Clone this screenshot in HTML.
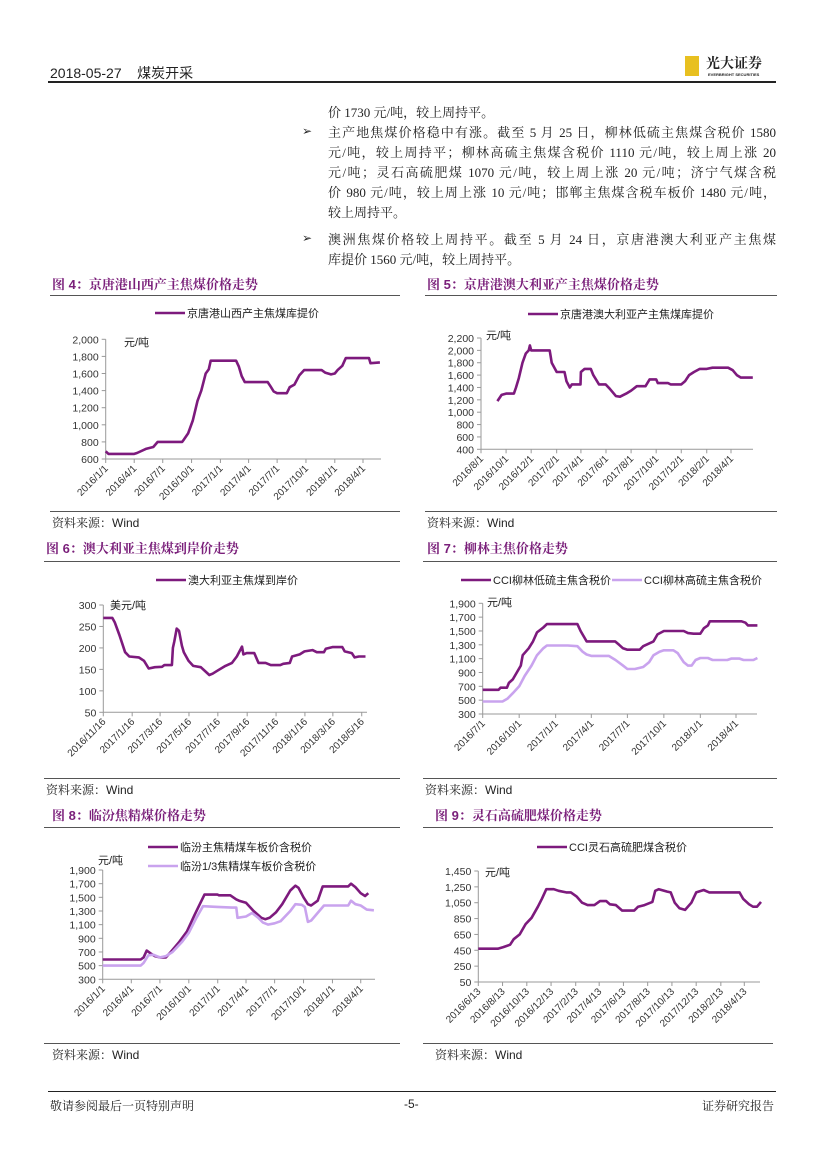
<!DOCTYPE html>
<html><head><meta charset="utf-8">
<style>
body{margin:0;background:#fff;}
#page{position:relative;width:827px;height:1169px;overflow:hidden;background:#fff;font-family:"Liberation Serif","Noto Serif CJK SC",serif;color:#222;}
.abs{position:absolute;white-space:nowrap;}
.para{position:absolute;left:328px;width:448px;font-size:13px;line-height:18px;white-space:nowrap;}
.just{text-align:justify;text-align-last:justify;}
.bullet{position:absolute;left:302px;font-size:12px;}
.ftitle{position:absolute;font-family:"Liberation Sans","Noto Serif CJK SC",serif;font-weight:bold;color:#7a1f7a;font-size:13px;}
.hr{position:absolute;height:1px;background:#555;}
.src{position:absolute;font-size:12px;font-family:"Liberation Sans","Noto Serif CJK SC",sans-serif;color:#222;}
svg text{font-family:"Liberation Sans","Noto Sans CJK SC",sans-serif;}
</style></head>
<body>
<div id="page">
<div class="abs" style="left:50px;top:63px;font-family:'Liberation Sans','Noto Sans CJK SC',sans-serif;font-size:14px;">2018-05-27&nbsp;&nbsp;&nbsp;&nbsp;煤炭开采</div>
<div class="abs" style="left:685px;top:56px;width:14px;height:20px;background:#e8c020;"></div>
<div class="abs" style="left:706px;top:53px;font-size:14px;font-weight:bold;font-family:'Noto Serif CJK SC',serif;">光大证券</div>
<div class="abs" style="left:708px;top:72px;font-size:4px;font-family:'Liberation Sans',sans-serif;font-weight:bold;">EVERBRIGHT SECURITIES</div>
<div class="abs" style="left:48px;top:81px;width:728px;height:2px;background:#222;"></div>

<div class="para" style="top:104px;">价 1730 元/吨，较上周持平。</div>
<div class="bullet" style="top:124px;">➢</div>
<div class="para just" style="top:124px;">主产地焦煤价格稳中有涨。截至 5 月 25 日，柳林低硫主焦煤含税价 1580</div>
<div class="para just" style="top:144px;">元/吨，较上周持平；柳林高硫主焦煤含税价 1110 元/吨，较上周上涨 20</div>
<div class="para just" style="top:164px;">元/吨；灵石高硫肥煤 1070 元/吨，较上周上涨 20 元/吨；济宁气煤含税</div>
<div class="para just" style="top:184px;">价 980 元/吨，较上周上涨 10 元/吨；邯郸主焦煤含税车板价 1480 元/吨，</div>
<div class="para" style="top:204px;">较上周持平。</div>
<div class="bullet" style="top:231px;">➢</div>
<div class="para just" style="top:231px;">澳洲焦煤价格较上周持平。截至 5 月 24 日，京唐港澳大利亚产主焦煤</div>
<div class="para" style="top:251px;">库提价 1560 元/吨，较上周持平。</div>

<div class="ftitle" style="left:52px;top:274px;">图 4：京唐港山西产主焦煤价格走势</div>
<div class="hr" style="left:50px;top:295px;width:350px;"></div>
<div class="ftitle" style="left:427px;top:274px;">图 5：京唐港澳大利亚产主焦煤价格走势</div>
<div class="hr" style="left:425px;top:295px;width:352px;"></div>
<div class="hr" style="left:50px;top:511px;width:350px;"></div>
<div class="src" style="left:52px;top:514px;">资料来源：Wind</div>
<div class="hr" style="left:425px;top:511px;width:352px;"></div>
<div class="src" style="left:427px;top:514px;">资料来源：Wind</div>

<div class="ftitle" style="left:46px;top:538px;">图 6：澳大利亚主焦煤到岸价走势</div>
<div class="hr" style="left:44px;top:561px;width:356px;"></div>
<div class="ftitle" style="left:427px;top:538px;">图 7：柳林主焦价格走势</div>
<div class="hr" style="left:423px;top:561px;width:354px;"></div>
<div class="hr" style="left:44px;top:778px;width:356px;"></div>
<div class="src" style="left:46px;top:781px;">资料来源：Wind</div>
<div class="hr" style="left:423px;top:778px;width:354px;"></div>
<div class="src" style="left:425px;top:781px;">资料来源：Wind</div>

<div class="ftitle" style="left:52px;top:805px;">图 8：临汾焦精煤价格走势</div>
<div class="hr" style="left:44px;top:827px;width:356px;"></div>
<div class="ftitle" style="left:435px;top:805px;">图 9：灵石高硫肥煤价格走势</div>
<div class="hr" style="left:423px;top:827px;width:350px;"></div>
<div class="hr" style="left:44px;top:1043px;width:356px;"></div>
<div class="src" style="left:52px;top:1046px;">资料来源：Wind</div>
<div class="hr" style="left:423px;top:1043px;width:350px;"></div>
<div class="src" style="left:435px;top:1046px;">资料来源：Wind</div>

<div class="abs" style="left:48px;top:1091px;width:728px;height:1px;background:#222;"></div>
<div class="src" style="left:50px;top:1097px;">敬请参阅最后一页特别声明</div>
<div class="src" style="left:404px;top:1097px;">-5-</div>
<div class="src" style="left:702px;top:1097px;">证券研究报告</div>

<svg id="charts" width="827" height="1169" style="position:absolute;left:0;top:0;"></svg>
</div>
<script>
const DARK="#7d1a7d", LIGHT="#c9a3ee";
// ---- Fig 4 ----
const c4YTicks=[600,800,1000,1200,1400,1600,1800,2000];
const c4XTicks=["2016-01-01","2016-04-01","2016-07-01","2016-10-01","2017-01-01","2017-04-01","2017-07-01","2017-10-01","2018-01-01","2018-04-01"];
const c4Dates=["2016-01-01","2016-01-10","2016-04-01","2016-04-10","2016-05-10","2016-06-01","2016-06-15","2016-09-01","2016-09-05","2016-09-20","2016-10-05","2016-10-20","2016-11-01","2016-11-15","2016-11-25","2016-12-01","2017-02-20","2017-03-01","2017-03-10","2017-03-20","2017-06-01","2017-06-10","2017-06-20","2017-07-01","2017-08-01","2017-08-10","2017-08-25","2017-09-10","2017-09-25","2017-11-20","2017-12-01","2017-12-20","2018-01-01","2018-01-10","2018-01-25","2018-02-05","2018-04-20","2018-04-25","2018-05-25"];
const c4Values=[690,660,660,670,720,740,800,800,820,900,1050,1280,1400,1600,1650,1750,1750,1680,1570,1500,1500,1450,1390,1370,1370,1440,1470,1580,1640,1640,1610,1590,1600,1640,1690,1780,1780,1720,1730];
// ---- Fig 5 ----
const c5YTicks=[400,600,800,1000,1200,1400,1600,1800,2000,2200];
const c5XTicks=["2016-08-01","2016-10-01","2016-12-01","2017-02-01","2017-04-01","2017-06-01","2017-08-01","2017-10-01","2017-12-01","2018-02-01","2018-04-01"];
const c5Dates=["2016-09-10","2016-09-20","2016-10-01","2016-10-20","2016-10-25","2016-11-01","2016-11-10","2016-11-18","2016-11-25","2016-11-28","2016-12-01","2017-01-15","2017-01-20","2017-02-01","2017-02-20","2017-02-25","2017-03-05","2017-03-10","2017-03-31","2017-04-01","2017-04-10","2017-04-25","2017-05-01","2017-05-15","2017-05-31","2017-06-10","2017-06-25","2017-07-05","2017-07-20","2017-08-01","2017-08-15","2017-09-05","2017-09-15","2017-10-01","2017-10-05","2017-10-30","2017-11-05","2017-12-01","2017-12-10","2017-12-20","2018-01-01","2018-01-15","2018-02-01","2018-02-15","2018-03-25","2018-04-05","2018-04-15","2018-04-25","2018-05-24"];
const c5Values=[1180,1280,1300,1300,1400,1550,1800,1950,2000,2080,2000,2000,1800,1650,1650,1500,1400,1450,1450,1650,1700,1700,1600,1450,1450,1380,1260,1250,1300,1350,1420,1420,1530,1530,1470,1470,1450,1450,1500,1600,1650,1700,1700,1720,1720,1680,1600,1560,1560];
// ---- Fig 6 ----
const c6YTicks=[50,100,150,200,250,300];
const c6XTicks=["2016-11-16","2017-01-16","2017-03-16","2017-05-16","2017-07-16","2017-09-16","2017-11-16","2018-01-16","2018-03-16","2018-05-16"];
const c6Dates=["2016-11-16","2016-12-05","2016-12-10","2016-12-20","2017-01-01","2017-01-10","2017-01-30","2017-02-10","2017-02-20","2017-03-05","2017-03-20","2017-03-25","2017-04-10","2017-04-12","2017-04-15","2017-04-20","2017-04-25","2017-05-01","2017-05-05","2017-05-15","2017-05-25","2017-06-10","2017-06-20","2017-06-28","2017-07-05","2017-07-15","2017-08-01","2017-08-15","2017-08-25","2017-09-05","2017-09-08","2017-09-15","2017-10-01","2017-10-10","2017-10-25","2017-11-05","2017-11-25","2017-12-01","2017-12-15","2017-12-20","2018-01-05","2018-01-15","2018-02-01","2018-02-10","2018-02-25","2018-03-01","2018-03-15","2018-04-05","2018-04-10","2018-04-25","2018-05-01","2018-05-10","2018-05-24"];
const c6Values=[270,270,260,230,190,180,178,170,152,155,156,160,160,200,215,245,240,205,190,170,158,155,145,137,140,147,158,165,180,203,185,188,188,165,165,160,160,163,165,180,185,192,195,190,190,198,202,202,192,188,178,180,180];
// ---- Fig 7 ----
const c7YTicks=[300,500,700,900,1100,1300,1500,1700,1900];
const c7XTicks=["2016-07-01","2016-10-01","2017-01-01","2017-04-01","2017-07-01","2017-10-01","2018-01-01","2018-04-01"];
const c7DarkDates=["2016-07-01","2016-08-10","2016-08-15","2016-08-31","2016-09-05","2016-09-15","2016-09-25","2016-10-05","2016-10-10","2016-10-25","2016-11-05","2016-11-15","2016-12-01","2016-12-10","2017-02-25","2017-03-05","2017-03-15","2017-03-20","2017-05-31","2017-06-10","2017-06-20","2017-07-01","2017-08-01","2017-08-10","2017-08-25","2017-09-05","2017-09-15","2017-10-01","2017-11-20","2017-12-01","2017-12-15","2018-01-01","2018-01-10","2018-01-20","2018-01-25","2018-04-15","2018-04-25","2018-05-01","2018-05-25"];
const c7DarkValues=[650,650,680,680,750,800,900,1000,1150,1250,1350,1480,1550,1600,1600,1500,1400,1350,1350,1300,1250,1230,1230,1280,1320,1350,1450,1500,1500,1470,1460,1460,1540,1580,1640,1640,1620,1580,1580];
const c7LightDates=["2016-07-01","2016-08-20","2016-09-01","2016-09-15","2016-10-01","2016-10-15","2016-11-01","2016-11-15","2016-12-01","2016-12-10","2017-02-01","2017-02-25","2017-03-10","2017-03-20","2017-04-01","2017-05-15","2017-06-01","2017-06-20","2017-07-01","2017-07-20","2017-08-10","2017-08-25","2017-09-05","2017-09-20","2017-10-01","2017-10-25","2017-11-05","2017-11-20","2017-12-01","2017-12-10","2017-12-20","2018-01-01","2018-01-20","2018-02-01","2018-03-10","2018-03-20","2018-04-10","2018-04-20","2018-05-15","2018-05-25"];
const c7LightValues=[480,480,520,600,700,850,1000,1150,1250,1290,1290,1280,1200,1160,1140,1140,1080,1000,950,950,980,1050,1150,1200,1220,1220,1180,1050,1000,1000,1080,1110,1110,1080,1080,1100,1100,1080,1080,1110];
// ---- Fig 8 ----
const c8YTicks=[300,500,700,900,1100,1300,1500,1700,1900];
const c8XTicks=["2016-01-01","2016-04-01","2016-07-01","2016-10-01","2017-01-01","2017-04-01","2017-07-01","2017-10-01","2018-01-01","2018-04-01"];
const c8DarkDates=["2016-01-01","2016-05-01","2016-05-10","2016-05-20","2016-06-01","2016-06-15","2016-07-01","2016-07-20","2016-08-01","2016-09-01","2016-09-25","2016-10-20","2016-11-05","2016-11-20","2016-12-31","2017-01-05","2017-02-10","2017-03-01","2017-03-10","2017-04-01","2017-04-25","2017-05-20","2017-06-01","2017-06-15","2017-07-05","2017-07-25","2017-08-20","2017-09-05","2017-09-15","2017-10-01","2017-10-15","2017-10-25","2017-11-15","2017-12-01","2018-01-01","2018-02-20","2018-03-01","2018-03-15","2018-04-01","2018-04-15","2018-04-25"];
const c8DarkValues=[590,590,620,720,680,640,620,620,680,850,1000,1250,1400,1540,1540,1530,1530,1470,1450,1420,1300,1200,1180,1200,1280,1400,1600,1670,1640,1500,1400,1380,1450,1660,1660,1660,1700,1650,1560,1520,1560];
const c8LightDates=["2016-01-01","2016-05-01","2016-05-10","2016-05-25","2016-06-10","2016-07-01","2016-07-20","2016-08-10","2016-09-10","2016-10-01","2016-10-25","2016-11-15","2016-12-31","2017-02-15","2017-03-01","2017-03-05","2017-04-01","2017-04-20","2017-05-10","2017-05-25","2017-06-10","2017-07-01","2017-07-20","2017-08-20","2017-09-05","2017-09-25","2017-10-05","2017-10-15","2017-10-25","2017-11-20","2017-12-05","2018-02-20","2018-03-01","2018-03-15","2018-04-01","2018-04-20","2018-05-13"];
const c8LightValues=[500,500,540,650,660,620,640,700,850,980,1200,1370,1360,1350,1350,1200,1220,1270,1200,1130,1100,1120,1150,1300,1400,1390,1360,1140,1160,1300,1380,1380,1450,1400,1380,1320,1310];
// ---- Fig 9 ----
const c9YTicks=[50,250,450,650,850,1050,1250,1450];
const c9XTicks=["2016-06-13","2016-08-13","2016-10-13","2016-12-13","2017-02-13","2017-04-13","2017-06-13","2017-08-13","2017-10-13","2017-12-13","2018-02-13","2018-04-13"];
const c9Dates=["2016-06-13","2016-08-01","2016-08-15","2016-09-01","2016-09-10","2016-09-25","2016-10-10","2016-10-25","2016-11-10","2016-11-20","2016-12-01","2016-12-20","2017-01-01","2017-01-20","2017-02-01","2017-02-15","2017-03-01","2017-03-15","2017-04-01","2017-04-15","2017-05-01","2017-05-10","2017-05-25","2017-06-10","2017-07-10","2017-07-20","2017-08-05","2017-08-25","2017-09-01","2017-09-10","2017-10-01","2017-10-10","2017-10-20","2017-11-01","2017-11-15","2017-12-01","2017-12-13","2018-01-01","2018-01-15","2018-04-01","2018-04-10","2018-04-25","2018-05-05","2018-05-15","2018-05-25"];
const c9Values=[470,470,490,520,590,650,780,860,1000,1100,1220,1220,1200,1180,1180,1130,1050,1020,1020,1070,1070,1030,1020,950,950,1000,1020,1060,1200,1220,1190,1180,1050,980,960,1050,1180,1210,1180,1180,1100,1030,1000,1000,1060];

const svg=document.getElementById('charts');
const NS="http://www.w3.org/2000/svg";
function dayNum(s){const p=s.split('-');return Date.UTC(+p[0],+p[1]-1,+p[2])/864e5;}
function mk(tag,attrs,parent){const e=document.createElementNS(NS,tag);for(const k in attrs)e.setAttribute(k,attrs[k]);(parent||svg).appendChild(e);return e;}
function fmt(v){return v>=1000?Math.floor(v/1000)+","+String(v%1000).padStart(3,"0"):String(v);}

function chart(id,L){
  const g=mk('g',{});
  
  
  const t0=dayNum(L.t0);
  const X=d=>L.x0+(dayNum(d)-t0)*L.ppd;
  const Y=v=>L.yTop+(L.yMax-v)/(L.yMax-L.yMin)*(L.yBot-L.yTop);
  const ya=mk('line',{x1:L.x0,y1:L.yTop,x2:L.x0,y2:L.yBot,stroke:'#999','stroke-width':1},g);
  
  
  const xa=mk('line',{x1:L.x0,y1:L.yBot,x2:L.xEnd,y2:L.yBot,stroke:'#999','stroke-width':1},g);
  
  
  L.yTicks.forEach(v=>{
    const y=Y(v);
    mk('line',{x1:L.x0-4,y1:y,x2:L.x0,y2:y,stroke:'#999'},g);
    const t=mk('text',{x:L.x0-7,y:y+4,'text-anchor':'end','font-size':10.5,fill:'#333'},g);
    t.textContent=L.yFmt?L.yFmt(v):fmt(v);
    
    
  });
  L.xTicks.forEach(d=>{
    const x=X(d);
    mk('line',{x1:x,y1:L.yBot,x2:x,y2:L.yBot+4,stroke:'#999'},g);
    const p=d.split('-');
    const t=mk('text',{x:x+3,y:L.yBot+10,'text-anchor':'end','font-size':10,fill:'#333',transform:`rotate(-45 ${x+3} ${L.yBot+10})`},g);
    t.textContent=(+p[0])+'/'+(+p[1])+'/'+(+p[2]);
    
    
  });
  const u=mk('text',{x:L.unitX,y:L.unitY,'font-size':11,fill:'#222'},g);
  u.textContent=L.unit;
  
  
  L.series.forEach((s,i)=>{
    const pts=s.d.map((d,j)=>X(d).toFixed(1)+','+Y(s.v[j]).toFixed(1)).join(' ');
    const pl=mk('polyline',{points:pts,fill:'none',stroke:s.c,'stroke-width':2.6,'stroke-linejoin':'round'},g);
    
    
    const lx=s.lx,ly=s.ly;
    mk('line',{x1:lx,y1:ly,x2:lx+30,y2:ly,stroke:s.c,'stroke-width':2.6},g);
    const lt=mk('text',{x:lx+32,y:ly+4,'font-size':11,fill:'#222'},g);
    lt.textContent=s.name;
    
    
  });
}

chart('fig4-chart',{t0:"2016-01-01",x0:105.7,ppd:0.3134,xEnd:381,yTop:339.3,yBot:459,yMin:600,yMax:2000,yTicks:c4YTicks,xTicks:c4XTicks,unit:"元/吨",unitX:124,unitY:346,
  series:[{d:c4Dates,v:c4Values,c:DARK,name:"京唐港山西产主焦煤库提价",lx:155,ly:313}]});
chart('fig5-chart',{t0:"2016-08-01",x0:481,ppd:0.4112,xEnd:753,yTop:338,yBot:449.3,yMin:400,yMax:2200,yTicks:c5YTicks,xTicks:c5XTicks,unit:"元/吨",unitX:486,unitY:339,
  series:[{d:c5Dates,v:c5Values,c:DARK,name:"京唐港澳大利亚产主焦煤库提价",lx:528,ly:314}]});
chart('fig6-chart',{t0:"2016-11-16",x0:103.3,ppd:0.4733,xEnd:367,yTop:605,yBot:712.3,yMin:50,yMax:300,yTicks:c6YTicks,xTicks:c6XTicks,unit:"美元/吨",unitX:110,unitY:609,
  series:[{d:c6Dates,v:c6Values,c:DARK,name:"澳大利亚主焦煤到岸价",lx:156,ly:580}]});
chart('fig7-chart',{t0:"2016-07-01",x0:482.7,ppd:0.3964,xEnd:757,yTop:603.3,yBot:714,yMin:300,yMax:1900,yTicks:c7YTicks,xTicks:c7XTicks,unit:"元/吨",unitX:487,unitY:606,
  series:[{d:c7DarkDates,v:c7DarkValues,c:DARK,name:"CCI柳林低硫主焦含税价",lx:461,ly:580},
          {d:c7LightDates,v:c7LightValues,c:LIGHT,name:"CCI柳林高硫主焦含税价",lx:612,ly:580}]});
chart('fig8-chart',{t0:"2016-01-01",x0:102.7,ppd:0.3143,xEnd:375,yTop:870,yBot:979.3,yMin:300,yMax:1900,yTicks:c8YTicks,xTicks:c8XTicks,unit:"元/吨",unitX:98,unitY:864,
  series:[{d:c8DarkDates,v:c8DarkValues,c:DARK,name:"临汾主焦精煤车板价含税价",lx:148,ly:847},
          {d:c8LightDates,v:c8LightValues,c:LIGHT,name:"临汾1/3焦精煤车板价含税价",lx:148,ly:866}]});
chart('fig9-chart',{t0:"2016-06-13",x0:478.3,ppd:0.3976,xEnd:760,yTop:871,yBot:982,yMin:50,yMax:1450,yTicks:c9YTicks,xTicks:c9XTicks,unit:"元/吨",unitX:485,unitY:876,
  series:[{d:c9Dates,v:c9Values,c:DARK,name:"CCI灵石高硫肥煤含税价",lx:537,ly:847}]});
</script>
</body></html>
